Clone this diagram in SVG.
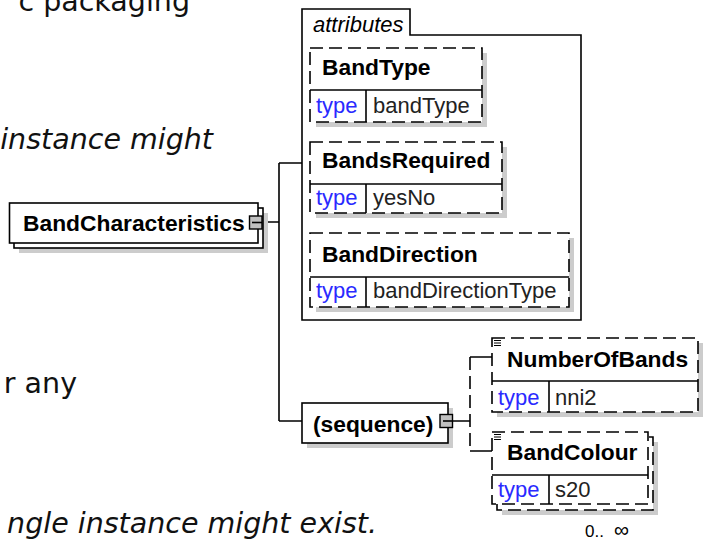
<svg xmlns="http://www.w3.org/2000/svg" width="704" height="541" viewBox="0 0 704 541">
<style>
.bg{font-family:"DejaVu Sans",Verdana,sans-serif;font-size:28.5px;fill:#111}
.it{font-style:italic}
.nm{font-family:"Liberation Sans",Arial,sans-serif;font-size:22.8px;font-weight:bold;fill:#000}
.ty{font-family:"Liberation Sans",Arial,sans-serif;font-size:22px;fill:#2a2aff}
.vl{font-family:"Liberation Sans",Arial,sans-serif;font-size:22px;fill:#222}
.box{fill:#fff;stroke:#000;stroke-width:1.6}
.dbox{fill:#fff;stroke:#000;stroke-width:1.6;stroke-dasharray:13 6}
.sh{fill:#cccccc}
.ln{stroke:#000;stroke-width:1.6;fill:none}
.dln{stroke:#000;stroke-width:1.6;fill:none;stroke-dasharray:13 6}
.sq{fill:#c0c0c0;stroke:#000;stroke-width:1.4}
</style>

<g id="background-text">
<text class="bg" x="190" y="11" text-anchor="end">c packaging</text>
<text class="bg it" x="213" y="149" text-anchor="end">instance might</text>
<text class="bg" x="77" y="393" text-anchor="end">r any</text>
<text class="bg it" x="377" y="533" text-anchor="end">ngle instance might exist.</text>
</g>

<g id="connectors">
<path class="ln" d="M263,222 H279 M279,163 V421 M279,163 H302 M279,421 H302"/>
<path class="ln" d="M453,421 H470 M470,357 H492 M470,451 H492"/>
<path class="dln" d="M470,357 V451"/>
</g>

<g id="BandCharacteristics">
<rect class="sh" x="19" y="213" width="249" height="40"/>
<rect class="box" x="14" y="208" width="249" height="40"/>
<rect class="box" x="9.5" y="203" width="248.5" height="40"/>
<text class="nm" x="23" y="231">BandCharacteristics</text>
<rect class="sq" x="249.5" y="216" width="12.5" height="13"/>
<line class="ln" x1="252" y1="222.5" x2="262" y2="222.5"/>
</g>

<g id="attributes">
<path class="ln" d="M302,9 H410 V35 H581 V320 H302 Z" fill="#fff"/>
<text x="313" y="32" font-family="Liberation Sans,Arial,sans-serif" font-size="22" font-style="italic" fill="#000">attributes</text>
</g>

<g id="BandType">
<rect class="sh" x="316" y="53" width="171" height="74"/>
<rect class="dbox" x="310" y="48" width="172" height="74"/>
<line class="ln" x1="310" y1="90" x2="482" y2="90"/>
<line class="ln" x1="366" y1="90" x2="366" y2="122"/>
<text class="nm" x="322" y="75">BandType</text>
<text class="ty" x="316" y="113">type</text>
<text class="vl" x="373" y="113">bandType</text>
</g>

<g id="BandsRequired">
<rect class="sh" x="316" y="147" width="191" height="71"/>
<rect class="dbox" x="310" y="142" width="192" height="71"/>
<line class="ln" x1="310" y1="184" x2="502" y2="184"/>
<line class="ln" x1="366" y1="184" x2="366" y2="213"/>
<text class="nm" x="322" y="168">BandsRequired</text>
<text class="ty" x="316" y="205">type</text>
<text class="vl" x="373" y="205">yesNo</text>
</g>

<g id="BandDirection">
<rect class="sh" x="316" y="238" width="258" height="74"/>
<rect class="dbox" x="310" y="233" width="259" height="74"/>
<line class="ln" x1="310" y1="277" x2="569" y2="277"/>
<line class="ln" x1="366" y1="277" x2="366" y2="307"/>
<text class="nm" x="322" y="262">BandDirection</text>
<text class="ty" x="316" y="298">type</text>
<text class="vl" x="373" y="298">bandDirectionType</text>
</g>

<g id="sequence">
<rect class="sh" x="307" y="408" width="146" height="40"/>
<rect class="box" x="302" y="403" width="146" height="40"/>
<text class="nm" x="313" y="432">(sequence)</text>
<rect class="sq" x="440" y="414.5" width="12.5" height="13"/>
<line class="ln" x1="443" y1="421" x2="453" y2="421"/>
</g>

<g id="NumberOfBands">
<rect class="sh" x="497" y="343" width="206" height="74"/>
<rect class="dbox" x="492" y="338" width="206" height="74"/>
<line class="ln" x1="492" y1="381" x2="698" y2="381"/>
<line class="ln" x1="549" y1="381" x2="549" y2="412"/>
<path stroke="#000" stroke-width="1" d="M494,340.5 H501 M494,343 H501 M494,345.5 H501"/>
<text class="nm" x="507" y="367">NumberOfBands</text>
<text class="ty" x="498" y="405">type</text>
<text class="vl" x="555" y="405">nni2</text>
</g>

<g id="BandColour">
<rect class="sh" x="502" y="442" width="156" height="73"/>
<rect class="dbox" x="497" y="437" width="156" height="73"/>
<rect class="dbox" x="492" y="432" width="156" height="72"/>
<line class="ln" x1="492" y1="475" x2="648" y2="475"/>
<line class="ln" x1="549" y1="475" x2="549" y2="504"/>
<path stroke="#000" stroke-width="1" d="M494,434.5 H501 M494,437 H501 M494,439.5 H501"/>
<text class="nm" x="507" y="460">BandColour</text>
<text class="ty" x="498" y="497">type</text>
<text class="vl" x="555" y="497">s20</text>
<text x="585" y="537" font-family="Liberation Sans,Arial,sans-serif" font-size="17" fill="#000">0..<tspan x="614" font-size="21">∞</tspan></text>
</g>
</svg>
